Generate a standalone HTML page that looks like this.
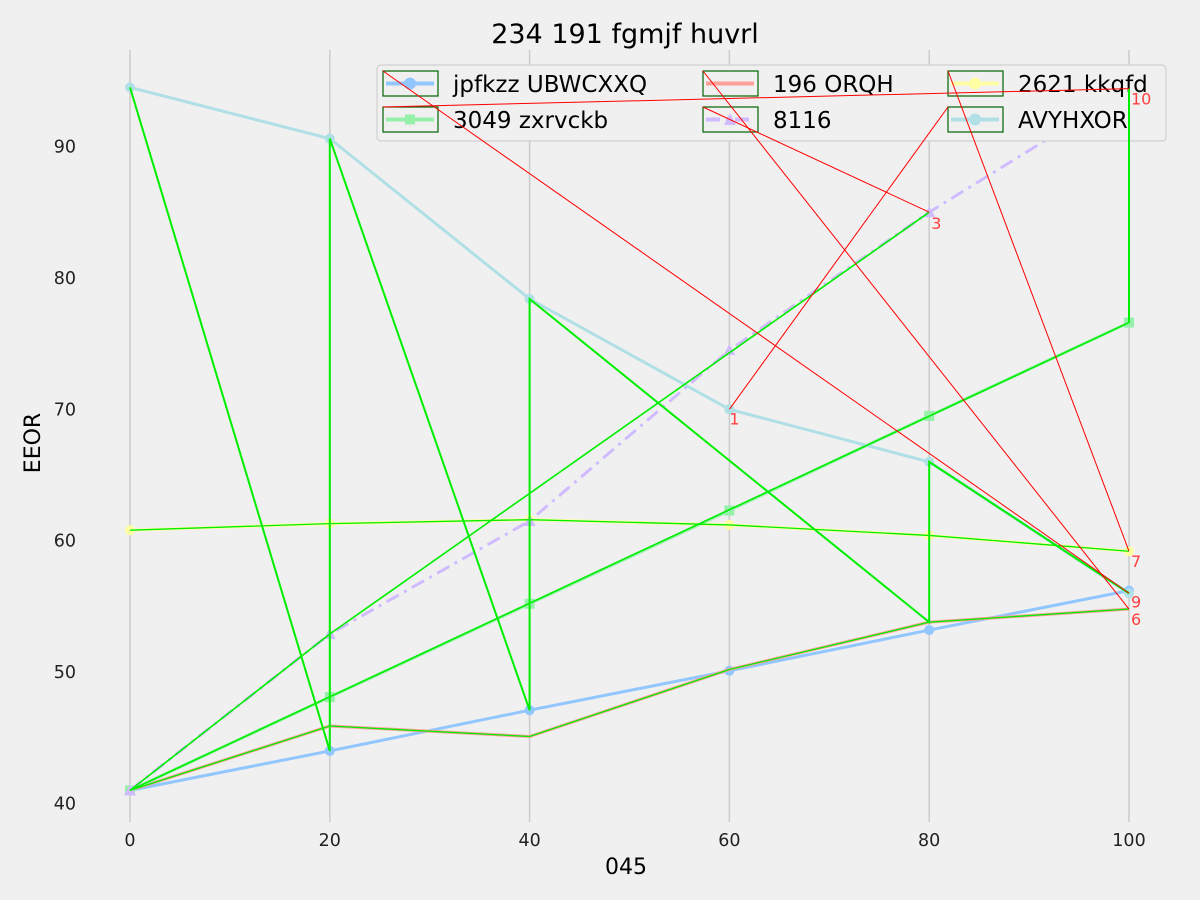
<!DOCTYPE html>
<html><head><meta charset="utf-8"><style>
html,body{margin:0;padding:0;background:#f0f0f0;}
svg{display:block;font-family:"DejaVu Sans","Liberation Sans",sans-serif;}
</style></head><body>
<svg id="chart" width="1200" height="900" xmlns="http://www.w3.org/2000/svg">
<rect width="1200" height="900" fill="#f0f0f0"/>
<text x="625" y="43" text-anchor="middle" font-size="27" fill="#000">234 191 fgmjf huvrl</text>
<text x="626" y="874" text-anchor="middle" font-size="22" fill="#000">045</text>
<text transform="translate(40,443) rotate(-90)" text-anchor="middle" font-size="22" fill="#000">EEOR</text>
<g id="grid"></g><g id="ticks"></g><g id="series"></g><g id="greens"></g><g id="legend"></g><g id="greens2"></g><g id="overlay"></g>
</svg>
<script>
const xCats = [0, 20, 40, 60, 80, 100];
const xTicks = [0, 20, 40, 60, 80, 100];
const yTicks = [40, 50, 60, 70, 80, 90];
const seriesNames = ["jpfkzz UBWCXXQ", "196 ORQH", "2621 kkqfd", "3049 zxrvckb", "8116", "AVYHXOR"];
const jpfkzz = [41, 44, 47.1, 50.1, 53.2, 56.2];
const orqh = [41, 45.9, 45.1, 50.2, 53.8, 54.8];
const kkqfd = [60.8, 61.3, 61.6, 61.2, 60.4, 59.2];
const zxrvckb = [41, 48.1, 55.2, 62.3, 69.5, 76.6];
const s8116 = [41, 52.9, 61.5, 74.5, 85, 94.4];
const avyhxor = [94.5, 90.6, 78.4, 70, 66, 56];

const NS = "http://www.w3.org/2000/svg";
const X = v => 130 + (v - 0) * 9.99;
const Y = v => 803.5 - (v - 40) * 13.14;
function mk(tag, attrs, parent){const e=document.createElementNS(NS,tag);for(const k in attrs)e.setAttribute(k,attrs[k]);parent.appendChild(e);return e;}
const grid=document.getElementById('grid'), ticks=document.getElementById('ticks'), ser=document.getElementById('series'), gr=document.getElementById('greens'), gr2=document.getElementById('greens2'), ov=document.getElementById('overlay'), lg=document.getElementById('legend');

xTicks.forEach(t=>{
  const l=mk('line',{x1:X(t),x2:X(t),y1:50,y2:822,stroke:'#cbcbcb','stroke-width':1.5},grid);
  
  
  const tx=mk('text',{x:X(t),y:846,'text-anchor':'middle','font-size':17.5,fill:'#222'},ticks);
  tx.textContent=t;
  
  
});
yTicks.forEach(t=>{
  const tx=mk('text',{x:76,y:Y(t)+6,'text-anchor':'end','font-size':17.5,fill:'#222'},ticks);
  tx.textContent=t;
  
  
});

const styles=[
 {d:jpfkzz,c:'#92c6ff',m:'circle',dash:null},
 {d:orqh,c:'#ff9f9a',m:null,dash:null},
 {d:kkqfd,c:'#fffea3',m:'circle',dash:null},
 {d:zxrvckb,c:'#97f0aa',m:'square',dash:null},
 {d:s8116,c:'#d0bbff',m:'tri',dash:'14,6,3,6'},
 {d:avyhxor,c:'#b0e0e6',m:'circle',dash:null}
];
styles.forEach((s,i)=>{
  const pts=s.d.map((v,j)=>X(xCats[j])+','+Y(v)).join(' ');
  const pl=mk('polyline',{points:pts,fill:'none',stroke:s.c,'stroke-width':3,'stroke-dasharray':s.dash||'none'},ser);
  
  
  if(s.m){s.d.forEach((v,j)=>{
    const x=X(xCats[j]),y=Y(v);let p;
    if(s.m==='circle')p=mk('circle',{cx:x,cy:y,r:5,fill:s.c},ser);
    else if(s.m==='square')p=mk('rect',{x:x-5,y:y-5,width:10,height:10,fill:s.c},ser);
    else p=mk('polygon',{points:`${x},${y-6} ${x-6},${y+5} ${x+6},${y+5}`,fill:s.c},ser);
    
    
  });}
});

// green overlay traces
const G='#00ee00';
function gline(pts,w,parent){
  const pl=mk('polyline',{points:pts.map(p=>X(p[0])+','+Y(p[1])).join(' '),fill:'none',stroke:G,'stroke-width':w},parent||gr);
  
  
}
gline([[0,avyhxor[0]],[20,jpfkzz[1]],[20,avyhxor[1]],[40,jpfkzz[2]],[40,avyhxor[2]],[80,orqh[4]],[80,avyhxor[4]],[100,avyhxor[5]]],2);
gline([[0,s8116[0]],[20,s8116[1]],[80,s8116[4]]],1.6);
gline([[0,zxrvckb[0]],[100,zxrvckb[5]]],1.6);
gline([[100,zxrvckb[5]],[100,s8116[5]]],2,gr2);
gline(xCats.map((x,j)=>[x,kkqfd[j]]),1.3);
gline(xCats.map((x,j)=>[x,orqh[j]]),1.3);

// legend
const lf=mk('rect',{x:377,y:65,width:789,height:76,rx:4,fill:'#f0f0f0',stroke:'#d0d0d0','stroke-width':1.2},lg);


const colX=[383,703,948], rowY=[71,107];
seriesNames.forEach((n,i)=>{
  const col=i%3,row=Math.floor(i/3);
  const s=styles[i];
  const bx=colX[col],by=rowY[row];
  const g=mk('g',{},lg);
  
  
  mk('line',{x1:bx+3,x2:bx+51,y1:by+12.5,y2:by+12.5,stroke:s.c,'stroke-width':4,'stroke-dasharray':s.dash||'none'},g);
  if(s.m==='circle')mk('circle',{cx:bx+27,cy:by+12.5,r:6,fill:s.c},g);
  if(s.m==='square')mk('rect',{x:bx+22,y:by+7.5,width:10,height:10,fill:s.c},g);
  if(s.m==='tri')mk('polygon',{points:`${bx+27},${by+6} ${bx+21},${by+18} ${bx+33},${by+18}`,fill:s.c},g);
  mk('rect',{x:bx,y:by,width:55,height:25,fill:'none',stroke:'#006400','stroke-width':1.2},g);
  const t=mk('text',{x:bx+70,y:by+21,'font-size':23,fill:'#000'},g);
  t.textContent=n;
});

// red annotation lines and labels
const R='#ff0000';
const annots=[
 {from:[383,71],pt:[100,avyhxor[5]],lab:'9',dx:2,dy:14},
 {from:[383,107],pt:[100,s8116[5]],lab:'10',dx:2,dy:16},
 {from:[703,71],pt:[100,orqh[5]],lab:'6',dx:2,dy:16},
 {from:[703,107],pt:[80,s8116[4]],lab:'3',dx:2,dy:17},
 {from:[948,71],pt:[100,kkqfd[5]],lab:'7',dx:2,dy:16},
 {from:[948,107],pt:[60,avyhxor[3]],lab:'1',dx:0,dy:15}
];
annots.forEach(a=>{
  const l=mk('line',{x1:a.from[0],y1:a.from[1],x2:X(a.pt[0]),y2:Y(a.pt[1]),stroke:R,'stroke-width':1},ov);
  
  
  const t=mk('text',{x:X(a.pt[0])+a.dx,y:Y(a.pt[1])+a.dy,'font-size':16,fill:'#ff4040'},ov);
  t.textContent=a.lab;
  
  
});
</script>
</body></html>
